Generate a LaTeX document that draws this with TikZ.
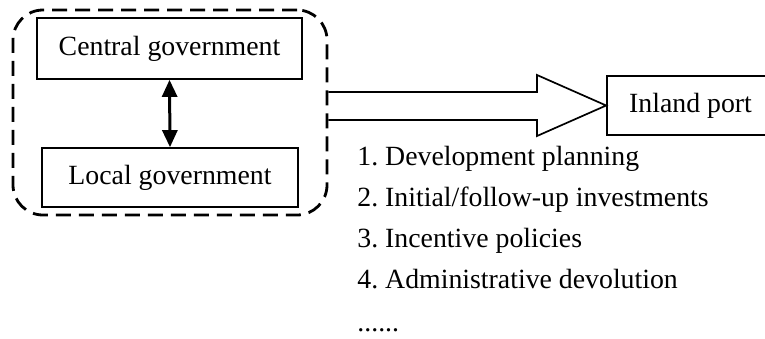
\documentclass[tikz,border=0pt]{standalone}
\usepackage{fontspec}
\setmainfont{Liberation Serif}
\usetikzlibrary{arrows.meta}
\frenchspacing
\begin{document}
\begin{tikzpicture}[x=0.5pt,y=-0.5pt,
  font=\fontsize{13.9}{16}\selectfont,
  box/.style={draw, line width=0.85pt, inner sep=0pt, align=center},
  group/.style={draw, line width=1.4pt, dash pattern=on 7.5pt off 4pt,
    rounded corners=15pt, minimum width=157pt, minimum height=102.5pt, inner sep=0pt},
  link/.style={line width=1.5pt, {Triangle[width=7.5pt,length=8.5pt]}-{Triangle[width=7.5pt,length=8.5pt]}},
  bigarrow/.style={draw, line width=0.85pt, line join=miter},
  item/.style={anchor=base west, inner sep=0pt}
]
\useasboundingbox (0,0) rectangle (765,338);

% dashed grouping of the two levels of government
\node[group] (gov) at (170,112.5) {};
\node[box, minimum width=132.5pt, minimum height=30.5pt] (central) at (169.5,48.5) {Central government};
\node[box, minimum width=128pt, minimum height=29.5pt] (local) at (170,177.5) {Local government};
\draw[link] (central.south) -- (local.north);

% target, running off the right edge
\node[box, minimum width=80pt, minimum height=29.5pt] (port) at (687,105.5) {};
\node (portlabel) at (690.5,105.5) {Inland port};

% block arrow from the government group to the port
\draw[bigarrow] (gov.east |- 0,92) -- (537,92) -- (537,75) -- (port.west)
  -- (537,136) -- (537,120) -- (gov.east |- 0,120);

% list of instruments
\node[item] (i1) at (357,165) {1. Development planning};
\node[item] (i2) at (357,206) {2. Initial/follow-up investments};
\node[item] (i3) at (357,247) {3. Incentive policies};
\node[item] (i4) at (357,288) {4. Administrative devolution};
\node[item] (i5) at (357,331) {......};
\end{tikzpicture}
\end{document}
